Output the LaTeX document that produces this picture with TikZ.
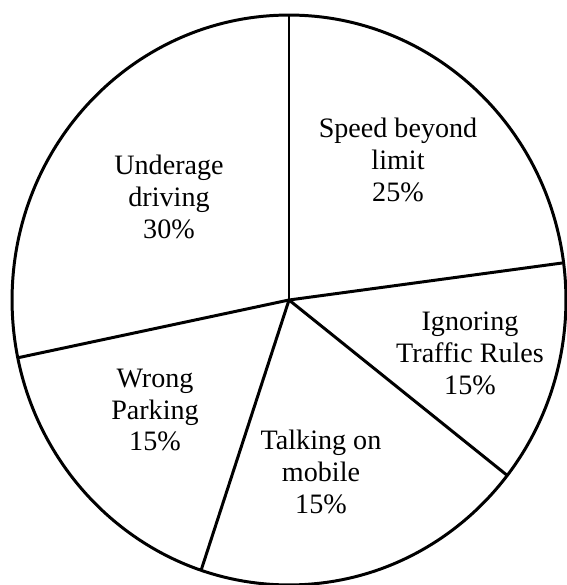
\documentclass[tikz,border=0pt]{standalone}
\usepackage{fontspec}
\setmainfont{Liberation Serif}
\usetikzlibrary{calc}

\begin{document}
\begin{tikzpicture}[x=0.02cm,y=0.02cm]
\tikzset{
    pie label/.style={align=center,font=\fontsize{16}{18.2}\selectfont},
    pie line/.style={line width=1.7pt}
}
\useasboundingbox (0,0) rectangle (566,585);

% Rim and centre
\coordinate (c) at (289,285);
\draw[pie line] (c) ellipse [x radius=5.54cm, y radius=5.70cm];
\coordinate (rtop) at ($(c)+(90:277 and 285)$);
\coordinate (rright) at ($(c)+(7.5:277 and 285)$);
\coordinate (rlowright) at ($(c)+(-38:277 and 285)$);
\coordinate (rbottom) at ($(c)+(-108.5:277 and 285)$);
\coordinate (rleft) at ($(c)+(191.7:277 and 285)$);

% Slices
 \draw[pie line](c)--(rtop);
 \draw[pie line](c)--(rright);
 \draw[pie line](c)--(rlowright);
 \draw[pie line](c)--(rbottom);
 \draw[pie line](c)--(rleft);

% Labels
\node[pie label] (speed) at (398,425){Speed beyond\\limit\\25\%};
\node[pie label] (underage) at (169,388){Underage\\driving\\30\%};
\node[pie label] (ignoring) at (470,232){Ignoring\\Traffic Rules\\15\%};
\node[pie label] (wrong) at (155,175){Wrong\\Parking\\15\%};
\node[pie label] (talking) at (321,113){Talking on\\mobile\\15\%};

\end{tikzpicture}
\end{document}
